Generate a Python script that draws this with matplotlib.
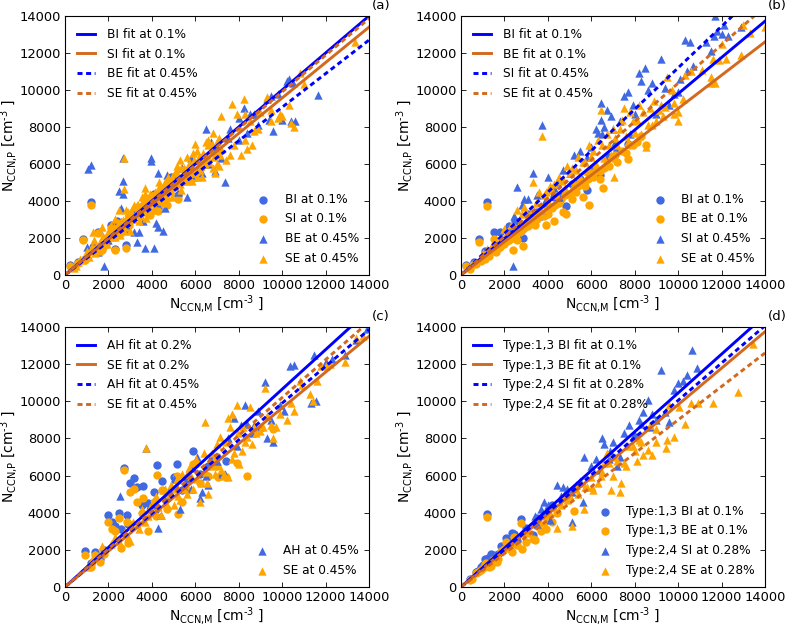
import matplotlib
matplotlib.use("Agg")
import matplotlib.pyplot as plt

plt.rcParams["lines.scale_dashes"] = False

# values
ticks = [0, 2000, 4000, 6000, 8000, 10000, 12000, 14000]

# panel a
a_bi_x = [250, 850, 1200, 1500, 1900, 2100, 2400, 2800, 2300, 3100, 3500, 3900, 4300, 4700, 5200, 5600, 600, 900, 1300, 1700, 2600, 2950, 3300, 3700, 4100, 4500, 4900]
a_bi_y = [550, 1950, 3950, 2350, 1800, 2700, 2900, 1600, 1400, 3300, 3700, 3400, 3600, 4800, 4300, 5400, 700, 850, 1500, 1450, 2500, 2850, 3600, 4100, 4400, 4100, 5300]
a_si_x = [250, 850, 1200, 1500, 1900, 2100, 2400, 2800, 2300, 3100, 3500, 3900, 4300, 4700, 5200, 5600, 600, 900, 1300, 1700, 2600, 2950, 3300, 3700, 4100, 4500, 4900]
a_si_y = [500, 1900, 3800, 2250, 1700, 2550, 2800, 1450, 1350, 3150, 3550, 3250, 3450, 3800, 4100, 5200, 650, 800, 1400, 1350, 2350, 2700, 3450, 3950, 4250, 3950, 5100]
a_be_x = [1050, 1220, 2650, 2650, 2500, 2650, 2600, 3950, 3950, 4300, 1800, 3700, 4100, 3300, 3200, 3400, 4200, 4300, 4500, 7350, 6500, 7600, 8000, 8250, 8500, 8700, 9300, 9500, 9600, 9800, 10200, 10300, 10400, 10600, 11650, 10500, 6700, 7000, 7200, 6900, 6300, 5800, 5200, 5600, 5000, 4700, 8000, 8400, 8900, 9400, 10000, 1000, 1500, 2000, 2300, 2900, 3100, 3600, 3800, 4600, 5400, 5900, 6200, 6600, 7500]
a_be_y = [5750, 5950, 6300, 5100, 4550, 4400, 3600, 6300, 6150, 5500, 500, 1450, 1450, 1800, 2300, 2350, 2800, 2600, 2400, 5000, 7900, 7900, 7300, 9050, 8700, 8700, 9500, 9700, 7800, 9800, 10500, 10600, 8300, 8300, 9750, 10400, 7200, 6900, 6300, 5600, 5500, 6300, 4500, 4200, 5400, 5400, 8500, 7700, 8100, 8400, 8400, 1500, 1250, 1900, 2900, 2500, 3500, 2900, 3800, 3600, 5800, 5300, 5900, 6000, 7400]
a_se_x = [2700, 2700, 3700, 7700, 8250, 7200, 7900, 9300, 9500, 9800, 10300, 10400, 10550, 10000, 13350, 11000, 10800, 9500, 9900, 8400, 8600, 8900, 7600, 8100, 8300, 7000, 6600, 6500, 6000, 5900, 5300, 5100, 5600, 6800, 7200, 6900, 7100, 6400, 6200, 5800, 5500, 5000, 4800, 4600, 4400, 4200, 4000, 3800, 3600, 3400, 3200, 3000, 2800, 2600, 2400, 2200, 2000, 1800, 1600, 1400, 1200, 1000, 800, 600, 400, 1300, 1700, 2100, 2500, 2900, 3300, 3700, 4100, 4500, 4900, 5300, 5700, 6100, 6500, 1500, 1900, 2300, 2700, 3100, 3500, 3900, 4300, 4700, 5100, 5500, 5900, 6300, 6700, 8000, 8500, 9000]
a_se_y = [6300, 4650, 4700, 9250, 9500, 8600, 8700, 9600, 8900, 8500, 9200, 8200, 8000, 8600, 12600, 10300, 10900, 8300, 8700, 6800, 7000, 7900, 6500, 6500, 7300, 6000, 7300, 7200, 7100, 6600, 6200, 5600, 5100, 7700, 6800, 5500, 5900, 6100, 5700, 5800, 5400, 5000, 4900, 5000, 4700, 4400, 4300, 3800, 4000, 3400, 3700, 3300, 3000, 2900, 2500, 2300, 2300, 1700, 1800, 1200, 1300, 1200, 800, 700, 400, 2350, 2600, 2700, 3500, 3400, 3800, 4400, 3600, 4300, 4600, 4900, 6000, 5300, 6200, 1450, 2000, 2050, 2400, 3000, 3200, 3500, 4300, 4200, 5100, 5800, 5500, 6300, 6700, 8000, 8300, 8800]
a_se2_x = [500, 700, 900, 1100, 1250, 1450, 1550, 1750, 1850, 1950, 2050, 2150, 2250, 2350, 2450, 2550, 2650, 2750, 2850, 2950, 3050, 3150, 3250, 3350, 3450, 3550, 3650, 3750, 3850, 3950, 4050, 4150, 4250, 4350, 4450, 4550, 4650, 4750, 4850, 4950, 5050, 5150, 5250, 5350, 5450, 5550, 5650, 5750, 5850, 5950, 6050, 6150, 6250, 6350, 6450, 6550, 6650, 6750, 6850, 6950, 7050, 7150]
a_se2_y = [500, 850, 1000, 1000, 1500, 1500, 1300, 2100, 1850, 1700, 2400, 2050, 2600, 2200, 2750, 2350, 2950, 2600, 3200, 2800, 3450, 3000, 3300, 3800, 3300, 3850, 3400, 4150, 3600, 4200, 3900, 4500, 4000, 4750, 4200, 4800, 4400, 5100, 4500, 5300, 4800, 5500, 5000, 5800, 5100, 5700, 5300, 6000, 5500, 6200, 5600, 6400, 5900, 6600, 6000, 6500, 6100, 7100, 6400, 6600, 7300, 6500]
a_se3_x = [1000, 1350, 1650, 2300, 2550, 2800, 3000, 3200, 3400, 3550, 3750, 3900, 4150, 4350, 4550, 4750, 4950, 5150, 5350, 5600, 5850, 6100, 6300, 6600, 6800, 7100, 7400, 7800, 8300, 8700]
a_se3_y = [1300, 1900, 1500, 3000, 2150, 3500, 2400, 3800, 2900, 4200, 3100, 4400, 3500, 5000, 3900, 5300, 4200, 5900, 4600, 6400, 5100, 6700, 5300, 7000, 5800, 7400, 6200, 7000, 8700, 7800]
a_slopes = [1.0, 0.957, 0.907, 0.99]

# panel b
b_bi_x = [250, 850, 1200, 1500, 1800, 2200, 2500, 2850, 3300, 3700, 4100, 4500, 4850, 5300, 5800, 5900, 6400, 7700, 600, 1100, 1600, 2000, 2400, 2700, 3100, 3500, 3900, 4300, 4700, 5100, 5500, 6100, 6800, 7200]
b_bi_y = [550, 1950, 3950, 2300, 2350, 2650, 2900, 2000, 3100, 3200, 3700, 4100, 3750, 5000, 4600, 5500, 5400, 7100, 700, 1300, 1500, 1900, 2400, 2600, 3300, 3400, 3800, 4200, 4400, 4900, 5200, 5800, 6400, 6700]
b_be_x = [250, 850, 1200, 1500, 1800, 2400, 2850, 3900, 4300, 4700, 4850, 5100, 5600, 5900, 6400, 6550, 7700, 7600, 8500, 600, 1100, 1600, 2000, 2600, 3000, 3400, 3600, 4000, 4500, 5300, 5700, 6100, 6800, 7200, 7900, 8300, 1300, 1900, 2200, 2800, 3200, 3800, 4200, 5000, 5500, 6000, 6600, 7100]
b_be_y = [500, 1800, 3750, 1950, 1500, 1350, 1550, 2700, 2900, 3400, 3300, 4100, 4200, 3800, 5200, 4700, 6250, 6600, 7000, 600, 850, 1250, 1650, 1900, 2700, 2700, 3200, 3300, 3900, 4500, 4800, 5300, 5900, 6100, 7000, 7500, 1050, 1700, 1900, 2450, 2850, 3200, 3600, 4400, 4900, 5500, 5800, 6500]
b_be2_x = [400, 700, 900, 1000, 1250, 1400, 1700, 1850, 2100, 2300, 2500, 2700, 2900, 3100, 3300, 3500, 3700, 3950, 4150, 4350, 4600, 4800, 5000, 5200, 5400, 5650, 5850, 6200, 6400, 6700, 7000, 7400, 7800, 8100]
b_be2_y = [350, 600, 750, 1000, 1150, 1300, 1450, 1600, 1850, 2000, 2100, 2300, 2550, 2650, 2950, 3000, 3300, 3500, 3700, 3800, 4100, 4300, 4400, 4650, 4800, 5000, 5200, 5600, 5600, 6000, 6300, 6700, 7000, 7200]
b_si_x = [2400, 2600, 3750, 3300, 3500, 2900, 2450, 3700, 4000, 4400, 4700, 5000, 5200, 5500, 5800, 6000, 6450, 6600, 6500, 6900, 7300, 7500, 7700, 7800, 8000, 8200, 8300, 8450, 8800, 9200, 9400, 9800, 10100, 10300, 10550, 10700, 11300, 11500, 11650, 11800, 12000, 12100, 12300, 12900, 11700, 6450, 6300, 6200, 7000, 7100, 9000, 9600, 10000, 10400, 4300, 4500, 3900, 3100, 2800, 6700, 7900, 8600]
b_si_y = [500, 4750, 8100, 5500, 4300, 4100, 3200, 3500, 5300, 5000, 5700, 5500, 6500, 6700, 6400, 6900, 9300, 8000, 7600, 8600, 8300, 9700, 9900, 7600, 8700, 10900, 10500, 11200, 10400, 11700, 10100, 9800, 10600, 12700, 12600, 11300, 12600, 12100, 12900, 13200, 13000, 13500, 12900, 13400, 14000, 8400, 7700, 7900, 7900, 7200, 8700, 9200, 9900, 11000, 4700, 4200, 4100, 4100, 3800, 8900, 9200, 10000]
b_se_x = [3750, 3300, 3500, 2900, 2600, 2400, 3800, 4200, 4600, 5000, 5300, 5600, 6000, 6450, 6700, 7000, 7300, 7500, 7800, 8100, 8400, 8700, 9000, 9200, 9500, 9800, 10000, 10300, 10600, 11100, 11500, 11600, 11700, 11900, 12200, 12000, 12900, 13000, 13300, 14000, 7050, 8200, 8500, 10000, 9800, 11500, 1000, 1400, 1800, 2100, 2300, 2700, 3100, 3400, 3700, 4000, 4400, 4800, 5200, 5500, 5800, 6200, 6600, 6900, 7200, 7700, 8000, 8300, 8800, 9300]
b_se_y = [7500, 5000, 3400, 3700, 3500, 2000, 4300, 4600, 5100, 5500, 5700, 6100, 6400, 8900, 7600, 7900, 7900, 9000, 8800, 8400, 8800, 9000, 8300, 9200, 10700, 9300, 8800, 10800, 11000, 11100, 10700, 11700, 10400, 11600, 11700, 12500, 11900, 13500, 13100, 13400, 5300, 7500, 6900, 8300, 8700, 10400, 1200, 1500, 1800, 2300, 2700, 2800, 3000, 3200, 3500, 4000, 4300, 4700, 5100, 5300, 5600, 6000, 6300, 6500, 7000, 7200, 7700, 7600, 8100, 8600]
b_se2_x = [1200, 1600, 2000, 2200, 2500, 2800, 3000, 3250, 3450, 3600, 3900, 4100, 4300, 4500, 4700, 4900, 5100, 5400, 5700, 5900, 6100, 6300, 6500, 6800, 7100, 7400, 7600, 7900, 8200, 8600, 8900, 9100, 9400, 9700, 10200]
b_se2_y = [1400, 1900, 2500, 2100, 2600, 3300, 3400, 3500, 3900, 4500, 4500, 4800, 4900, 5300, 5200, 5900, 5800, 6400, 6100, 7000, 6700, 7300, 7000, 7000, 7400, 8400, 7500, 8300, 9200, 8100, 9400, 8900, 9100, 10000, 9500]
b_slopes = [0.98, 0.9, 1.12, 1.037]

# panel c
c_ah_c_x = [900, 2000, 2150, 2700, 3000, 3200, 3300, 3600, 4250, 4100, 5900, 5150, 4450, 3550, 2500, 2850, 1400, 1800, 2300, 2900, 3800, 4200, 4700, 5000, 5400, 5600, 6200, 6600, 7000, 7400, 1200, 1600, 2600]
c_ah_c_y = [1950, 3850, 3500, 6400, 5600, 5850, 5400, 5450, 6550, 5100, 7300, 6600, 5700, 4400, 4000, 3900, 1900, 2000, 3300, 3400, 4500, 4200, 4800, 5900, 5200, 5800, 6100, 6500, 7000, 6800, 1300, 1500, 3100]
c_se_c_x = [900, 2000, 2150, 2700, 3000, 3200, 3300, 3600, 4250, 4100, 5900, 5150, 4450, 3550, 2500, 2850, 8400, 7050, 5200, 1400, 1800, 2300, 2900, 3800, 4200, 4700, 5000, 5400, 5600, 6200, 6600, 7000, 7400, 7900, 9600, 1200, 1600, 2600]
c_se_c_y = [1700, 3500, 3100, 6300, 5100, 5300, 4600, 4800, 6050, 4600, 6600, 6000, 5200, 4000, 3700, 3500, 6000, 5900, 3950, 1700, 1800, 3000, 2350, 3000, 3800, 4200, 5300, 4600, 5200, 5600, 6000, 6500, 5900, 6700, 8500, 1050, 1350, 2100]
c_ah_x = [2550, 3750, 4300, 6700, 7000, 7200, 7500, 7800, 8100, 8300, 8600, 8900, 9000, 9200, 9300, 9600, 10350, 10550, 10100, 11450, 11350, 11550, 12000, 12300, 12900, 13400, 13900, 9900, 7350, 6200, 6300, 6600, 5800, 5300, 4800, 4400, 3900, 5000, 5500, 5900, 6100, 6500, 7900, 8400, 8700, 9500]
c_ah_y = [4900, 7500, 3200, 7000, 6800, 6100, 8000, 9100, 8700, 9800, 8300, 9500, 8600, 11050, 8000, 7800, 11900, 11950, 9500, 12500, 9900, 10000, 12100, 12300, 12500, 13300, 13900, 9800, 6100, 4800, 5100, 5500, 5300, 4200, 5200, 3900, 4400, 5800, 5400, 6400, 7000, 6000, 7600, 8800, 8700, 9000]
c_se_x = [3750, 6450, 7500, 7700, 7900, 8200, 8500, 8700, 9000, 9200, 9600, 9900, 10200, 10400, 10550, 10800, 10900, 11300, 11400, 11600, 11800, 12000, 12200, 12900, 13400, 13700, 6200, 6600, 7300, 7500, 6900, 5800, 5200, 4800, 4300, 3800, 3300, 2900, 2500, 2100, 1700, 1400, 1200, 1000, 5500, 6000, 6500, 7000, 7400, 7800, 8300, 8600, 9100, 9500, 9700, 3600, 4100, 4600, 5100, 5600, 6100, 6800, 7200, 8000]
c_se_y = [7500, 8900, 9100, 9300, 9800, 8600, 9700, 8600, 8400, 10700, 8000, 9300, 9000, 9900, 9500, 11100, 10900, 10400, 10000, 11100, 11900, 11900, 12000, 12100, 13400, 13500, 4600, 5000, 6100, 5900, 7000, 6000, 4900, 5000, 4300, 3800, 3400, 2700, 2500, 2300, 2200, 1800, 1400, 1100, 5300, 6700, 6200, 7700, 7800, 7200, 7800, 7700, 8600, 8700, 8600, 3600, 4700, 5300, 5500, 6100, 5800, 6500, 6300, 6600]
c_se2_x = [2300, 2700, 3000, 3150, 3400, 3550, 3700, 3900, 4000, 4200, 4400, 4500, 4700, 4900, 5000, 5150, 5300, 5400, 5600, 5700, 5900, 6050, 6250, 6400, 6550, 6750, 6900, 7150, 7300, 7600, 7700, 7950, 8150, 8400, 8800, 9300]
c_se2_y = [2700, 2900, 2500, 3500, 3100, 4200, 3500, 4300, 4200, 4900, 3900, 5200, 4400, 5500, 4400, 5800, 4700, 6100, 5000, 6400, 5300, 6900, 5600, 7200, 5600, 7200, 6100, 8100, 6000, 8600, 6900, 8300, 7300, 8100, 8300, 9200]
c_slopes = [1.065, 0.964, 0.99, 1.02]

# panel d
d_bi_x = [400, 800, 1100, 1200, 1400, 1700, 2000, 2050, 2350, 2450, 2750, 3000, 3300, 3500, 3900, 4200, 2600, 1000, 1300, 1550, 1850, 2250, 700, 900, 1250, 1450, 1650, 1950, 2150]
d_bi_y = [450, 850, 1500, 3950, 1750, 1800, 2100, 2650, 2900, 2850, 3650, 3200, 2800, 3700, 3800, 4400, 2500, 1200, 1500, 1500, 2200, 2300, 800, 1100, 1550, 1700, 1700, 2000, 2500]
d_be_x = [400, 800, 1100, 1200, 1400, 1700, 2000, 2050, 2350, 2450, 2750, 3000, 3300, 3500, 3900, 4200, 2600, 1000, 1300, 1550, 1850, 2250, 2800, 3400, 5200, 500, 700, 900, 1150, 1450, 1650, 2150, 2900, 3100, 3600, 3700, 4000, 4400]
d_be_y = [350, 800, 1250, 3750, 1150, 1500, 2050, 2400, 1900, 2700, 3450, 2400, 2600, 3300, 3100, 3500, 2250, 1000, 1100, 1400, 1950, 2050, 2050, 2550, 4100, 450, 750, 900, 1300, 1450, 1350, 2250, 2900, 2900, 3400, 3000, 3700, 4000]
d_si_x = [3400, 3700, 3800, 4000, 4400, 4700, 4900, 5100, 5100, 5600, 5650, 6000, 6200, 6400, 6500, 6600, 6850, 7000, 7300, 7500, 7750, 8000, 8300, 8400, 8600, 8800, 9000, 9200, 9400, 9600, 9800, 10000, 10200, 10400, 10650, 10850, 8700, 7200, 6800, 5300, 5500, 4600, 4100, 3500, 8200, 7900]
d_si_y = [3800, 4200, 4600, 4400, 5500, 5400, 5300, 3500, 5100, 4600, 7000, 6500, 6900, 6300, 8000, 7700, 7300, 7800, 7000, 8300, 8700, 8200, 8800, 9400, 10050, 9300, 9000, 11700, 9400, 8900, 10600, 11000, 11100, 11400, 12750, 11800, 8600, 6500, 6900, 5500, 5700, 4900, 3600, 3400, 9000, 8100]
d_se_x = [5100, 5650, 4400, 4900, 5300, 5800, 6100, 6300, 6600, 6900, 7100, 7300, 7600, 7900, 8100, 8400, 8600, 8800, 9000, 9450, 9500, 9600, 9800, 10050, 10300, 10600, 10900, 11600, 12750, 13450, 7350, 6450, 6700, 7000, 7500, 8000, 8200, 8700, 9000, 6050, 5500, 4700, 4100, 3800, 4300, 4600, 5000, 5400, 5700, 6000, 6500, 6800, 7200, 7700, 8300]
d_se_y = [3300, 4200, 3200, 4700, 5300, 5400, 5200, 5600, 6700, 5200, 7000, 5100, 6500, 7600, 6800, 7100, 7400, 7100, 7800, 7500, 7900, 9800, 8100, 9700, 8750, 9900, 9900, 9900, 10500, 13100, 5600, 6000, 7200, 6000, 6700, 7300, 7900, 8700, 8500, 5400, 5600, 4900, 4000, 3500, 4300, 4400, 4900, 5000, 5400, 5900, 6200, 6700, 6800, 7600, 7800]
d_slopes = [1.045, 0.982, 1.005, 0.9]

panels = [
    ("(a)", [0.0826, 0.5614, 0.3863, 0.4131],
     [(a_bi_x, a_bi_y, "o", "#4169e1", "BI at 0.1%"), (a_si_x, a_si_y, "o", "orange", "SI at 0.1%"),
      (a_be_x, a_be_y, "^", "#4169e1", "BE at 0.45%"), (a_se_x + a_se2_x + a_se3_x, a_se_y + a_se2_y + a_se3_y, "^", "orange", "SE at 0.45%")],
     a_slopes, ["BI fit at 0.1%", "SI fit at 0.1%", "BE fit at 0.45%", "SE fit at 0.45%"]),
    ("(b)", [0.5858, 0.5614, 0.3863, 0.4131],
     [(b_bi_x, b_bi_y, "o", "#4169e1", "BI at 0.1%"), (b_be_x + b_be2_x, b_be_y + b_be2_y, "o", "orange", "BE at 0.1%"),
      (b_si_x, b_si_y, "^", "#4169e1", "SI at 0.45%"), (b_se_x + b_se2_x, b_se_y + b_se2_y, "^", "orange", "SE at 0.45%")],
     b_slopes, ["BI fit at 0.1%", "BE fit at 0.1%", "SI fit at 0.45%", "SE fit at 0.45%"]),
    ("(c)", [0.0826, 0.0638, 0.3863, 0.4147],
     [(c_ah_c_x, c_ah_c_y, "o", "#4169e1", None), (c_se_c_x, c_se_c_y, "o", "orange", None),
      (c_ah_x, c_ah_y, "^", "#4169e1", "AH at 0.45%"), (c_se_x + c_se2_x, c_se_y + c_se2_y, "^", "orange", "SE at 0.45%")],
     c_slopes, ["AH fit at 0.2%", "SE fit at 0.2%", "AH fit at 0.45%", "SE fit at 0.45%"]),
    ("(d)", [0.5858, 0.0638, 0.3863, 0.4147],
     [(d_bi_x, d_bi_y, "o", "#4169e1", "Type:1,3 BI at 0.1%"), (d_be_x, d_be_y, "o", "orange", "Type:1,3 BE at 0.1%"),
      (d_si_x, d_si_y, "^", "#4169e1", "Type:2,4 SI at 0.28%"), (d_se_x, d_se_y, "^", "orange", "Type:2,4 SE at 0.28%")],
     d_slopes, ["Type:1,3 BI fit at 0.1%", "Type:1,3 BE fit at 0.1%", "Type:2,4 SI fit at 0.28%", "Type:2,4 SE fit at 0.28%"]),
]

line_colors = ["#0000ff", "chocolate", "#0000ff", "chocolate"]
line_styles = ["-", "-", (0, (3.6, 2.6)), (0, (3.6, 2.6))]

fig = plt.figure(figsize=(7.87, 6.27), dpi=100)

for name, rect, groups, slopes, fit_labels in panels:
    ax = fig.add_axes(rect)
    dots = []
    for x, y, marker, color, label in groups:
        h = ax.scatter(x, y, s=36, marker=marker, color=color, linewidths=0, label=label)
        if label is not None:
            dots.append(h)
    lines = []
    for slope, color, style, label in zip(slopes, line_colors, line_styles, fit_labels):
        l, = ax.plot([0, 14000], [0, 14000 * slope], color=color, ls=style, lw=2.1, label=label)
        lines.append(l)
    ax.set_xlim(0, 14000)
    ax.set_ylim(0, 14000)
    ax.set_xticks(ticks)
    ax.set_yticks(ticks)
    ax.tick_params(direction="in", top=True, right=True, labelsize=9.4, length=3.5, width=0.6, pad=3)
    for s in ax.spines.values():
        s.set_linewidth(0.8)
    ax.set_xlabel(r"N$_{\mathrm{CCN{,}M}}$ [cm$^{\text{-}3}$ ]", fontsize=10)
    ax.set_ylabel(r"N$_{\mathrm{CCN{,}P}}$ [cm$^{\text{-}3}$ ]", fontsize=10)
    ax.xaxis.set_label_coords(0.5, -0.07)
    ax.yaxis.set_label_coords(-0.147, 0.5)
    first = ax.legend(handles=lines, loc="upper left", frameon=False, fontsize=8.7,
                      labelspacing=0.55, handlelength=1.5, borderaxespad=0.6, handletextpad=1.0)
    ax.add_artist(first)
    ax.legend(handles=dots, loc="lower right", frameon=False, fontsize=8.7,
              labelspacing=0.55, borderaxespad=0.45, handletextpad=0.75, scatterpoints=1)
    ax.text(1.04, 1.04, name, transform=ax.transAxes, fontsize=9.6, ha="center", va="center")

fig.savefig("out.png", dpi=100)
